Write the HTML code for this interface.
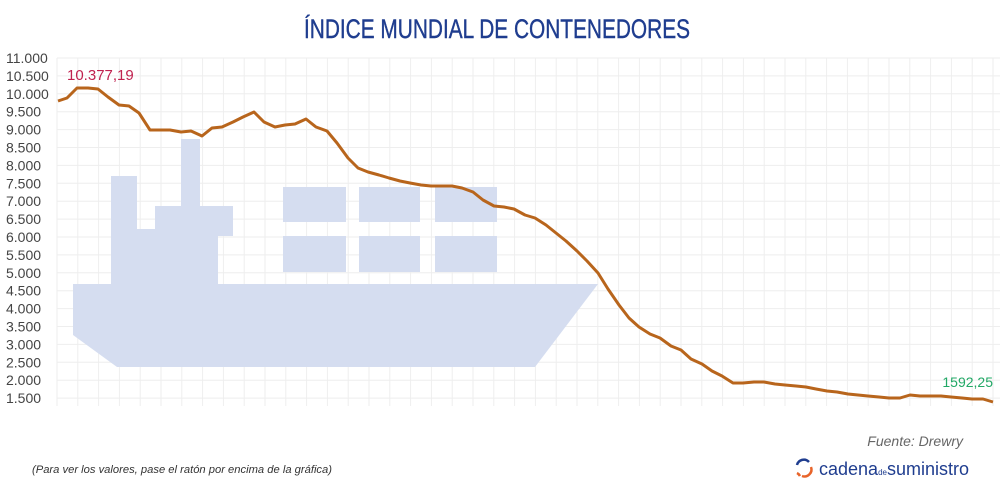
<!DOCTYPE html>
<html><head><meta charset="utf-8"><style>
body{margin:0;background:#fff;}
svg{display:block;font-family:"Liberation Sans",sans-serif;}
</style></head><body>
<svg width="1000" height="500" viewBox="0 0 1000 500">
<rect width="1000" height="500" fill="#fff"/>
<text x="497" y="38" text-anchor="middle" font-size="27" fill="#1f3d8f" stroke="#1f3d8f" stroke-width="0.4" textLength="386" lengthAdjust="spacingAndGlyphs">ÍNDICE MUNDIAL DE CONTENEDORES</text>
<g id="grid" stroke="#eeeeee" stroke-width="1"></g>
<g fill="#d5ddf0">
<polygon points="73,284 598,284 535,367 117,367 73,335"/>
<rect x="111" y="176" width="26" height="108"/>
<rect x="137" y="229" width="18" height="55"/>
<rect x="155" y="206" width="45" height="78"/>
<rect x="181" y="139" width="19" height="67"/>
<rect x="200" y="206" width="33" height="30"/>
<rect x="200" y="236" width="18" height="48"/>
<rect x="283" y="187" width="63" height="35"/><rect x="359" y="187" width="61" height="35"/><rect x="435" y="187" width="62" height="35"/>
<rect x="283" y="236" width="63" height="36"/><rect x="359" y="236" width="61" height="36"/><rect x="435" y="236" width="62" height="36"/>
</g>
<g id="ylab" font-size="14" fill="#444"></g>
<polyline fill="none" stroke="#b8651c" stroke-width="3" stroke-linejoin="round" points="58,101 67,98 77,88 88,88 98,89 108,97 119,105 129,106 139,113 150,130 160,130 170,130 181,132 191,131 202,136 212,128 222,127 233,122 243,117 254,112 264,122 275,127 285,125 295,124 306,119 316,127 327,131 337,143 348,158 358,168 368,172 379,175 389,178 400,181 410,183 421,185 431,186 441,186 452,186 462,188 473,192 483,200 494,206 504,207 514,209 525,215 535,218 546,225 556,233 566,241 577,251 587,261 598,273 608,289 619,305 629,318 639,327 650,334 660,338 671,346 681,350 691,359 702,364 712,371 722,376 733,383 743,383 754,382 764,382 775,384 785,385 796,386 806,387 816,389 827,391 837,392 848,394 858,395 868,396 879,397 889,398 900,398 910,395 920,396 931,396 941,396 951,397 962,398 972,399 983,399 993,402"/>
<text x="67" y="80" font-size="15" fill="#c0214f">10.377,19</text>
<text x="993" y="387" font-size="14" fill="#22a866" text-anchor="end">1592,25</text>
<text x="963" y="446" font-size="14" font-style="italic" fill="#666" text-anchor="end">Fuente: Drewry</text>
<text x="32" y="473" font-size="11" font-style="italic" fill="#333" textLength="300" lengthAdjust="spacingAndGlyphs">(Para ver los valores, pase el ratón por encima de la gráfica)</text>
<path d="M797 465 a7 7 0 0 1 12 -3" fill="none" stroke="#1f3d8f" stroke-width="2.5"/>
<path d="M800 476 a7 7 0 0 0 -3 -3" fill="none" stroke="#e8642a" stroke-width="2.5"/>
<path d="M811 467 a7 7 0 0 1 -9 9" fill="none" stroke="#e8642a" stroke-width="2.5"/>
<text x="819" y="475" font-size="18" fill="#1f3d8f">cadena<tspan font-size="8">de</tspan>suministro</text>
<script>
var g=document.getElementById('grid'),y=document.getElementById('ylab'),ns='http://www.w3.org/2000/svg';
for(var i=0;i<=19;i++){var yy=58+i*17.9;var l=document.createElementNS(ns,'line');l.setAttribute('x1',57);l.setAttribute('x2',1000);l.setAttribute('y1',yy);l.setAttribute('y2',yy);g.appendChild(l);
var t=document.createElementNS(ns,'text');t.setAttribute('x',6);t.setAttribute('y',yy+5);var v=11000-i*500;t.textContent=(Math.floor(v/1000))+'.'+(v%1000===0?'000':'500');y.appendChild(t);}
for(var x=57;x<1000;x+=20.8){var l=document.createElementNS(ns,'line');l.setAttribute('x1',x);l.setAttribute('x2',x);l.setAttribute('y1',58);l.setAttribute('y2',406);g.appendChild(l);}
</script>
</svg>
</body></html>
